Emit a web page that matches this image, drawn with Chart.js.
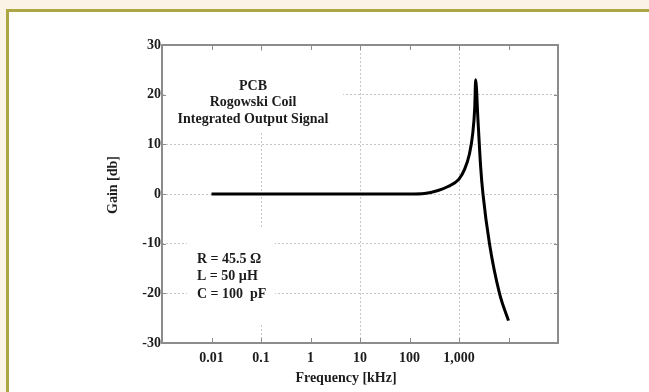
<!DOCTYPE html>
<html>
<head>
<meta charset="utf-8">
<script src="https://cdn.jsdelivr.net/npm/chart.js@4"></script>
<style>
  html, body { margin: 0; padding: 0; background: #fbf3e6; }
  #frame {
    position: absolute; left: 6px; top: 9px; width: 700px; height: 400px;
    background: #fff; border-top: 3px solid #ada645; border-left: 3px solid #ada645;
  }
  #wrap { position: absolute; left: 0; top: 0; width: 649px; height: 392px; }
</style>
</head>
<body>
<div id="frame"></div>
<div id="wrap"><canvas id="myChart" width="649" height="392"></canvas></div>
<script>
const ctx = document.getElementById("myChart");

// frequency response
let freqKHz = [0.01, 0.1, 1, 10, 100, 200, 377, 600, 1000, 1300, 1620, 1890, 2080, 2170, 2420, 2740, 3050, 4130, 6580, 10000]
let gainDb  = [0, 0, 0, 0, 0, 0.1, 0.7, 1.5, 3.0, 5.0, 8.0, 12.1, 17.4, 23, 14.8, 5.4, 0, -10, -20, -25.5]

let xDecades = [0.001, 0.01, 0.1, 1, 10, 100, 1000, 10000, 100000]
let xLabels = {0.01: '0.01', 0.1: '0.1', 1: '1', 10: '10', 100: '100', 1000: '1,000'}
let yTicks = [-30, -20, -10, 0, 10, 20, 30]

let titleLines = ['PCB', 'Rogowski Coil', 'Integrated Output Signal']
let paramLines = ['R = 45.5 \u03A9', 'L = 50 \u00B5H', 'C = 100  pF']

const FONT = 'bold 14px "Liberation Serif", serif'
const INK = '#1c1c1c'

const points = freqKHz.map((f, i) => ({x: f, y: gainDb[i]}))

function isGridDecade(v){
  return Math.abs(Math.round(Math.log10(v))) % 2 === 1
}

const decor = {
  id: 'decor',
  beforeDatasetsDraw(chart){
    const c = chart.ctx, a = chart.chartArea
    // white boxes behind the texts hide the grid there
    c.save()
    c.fillStyle = '#fff'
    c.fillRect(a.left + 3, a.top + 8, 178, 80)
    c.fillRect(a.left + 25, a.top + 182, 88, 96)
    c.restore()
  },
  afterDatasetsDraw(chart){
    const c = chart.ctx, a = chart.chartArea
    const xs = chart.scales.x, ys = chart.scales.y
    c.save()
    c.strokeStyle = '#8c8c8c'
    c.lineWidth = 2
    c.strokeRect(a.left, a.top, a.right - a.left, a.bottom - a.top)
    c.lineWidth = 1
    c.beginPath()
    xDecades.forEach(v => {
      const px = Math.round(xs.getPixelForValue(v)) + 0.5
      c.moveTo(px, a.top); c.lineTo(px, a.top + 5)
      c.moveTo(px, a.bottom); c.lineTo(px, a.bottom - 5)
    })
    yTicks.forEach(v => {
      const py = Math.round(ys.getPixelForValue(v)) + 0.5
      c.moveTo(a.left, py); c.lineTo(a.left + 4, py)
      c.moveTo(a.right, py); c.lineTo(a.right - 4, py)
    })
    c.stroke()

    c.fillStyle = INK
    c.font = FONT
    c.textBaseline = 'middle'
    c.textAlign = 'center'
    titleLines.forEach((t, i) => c.fillText(t, a.left + 91, a.top + 41 + i * 16.5))
    c.textAlign = 'left'
    paramLines.forEach((t, i) => c.fillText(t, a.left + 35, a.top + 214 + i * 17.5))

    // axis titles
    c.textAlign = 'center'
    c.fillText('Frequency [kHz]', a.left + 184, a.bottom + 35)
    c.translate(a.left - 49, a.top + 140)
    c.rotate(-Math.PI / 2)
    c.fillText('Gain [db]', 0, 0)
    c.restore()
  }
}

const myChart = new Chart(ctx, {
  type: 'line',
  data: {
    datasets: [{
      label: 'Gain',
      data: points,
      borderColor: '#000',
      borderWidth: 3,
      pointRadius: 0,
      cubicInterpolationMode: 'monotone',
      fill: false
    }]
  },
  options: {
    responsive: false,
    animation: false,
    layout: { padding: { top: 45, right: 91, left: 0, bottom: 0 } },
    plugins: { legend: { display: false }, tooltip: { enabled: false } },
    scales: {
      x: {
        type: 'logarithmic',
        min: 0.001,
        max: 100000,
        afterBuildTicks(scale){ scale.ticks = xDecades.map(v => ({value: v})) },
        afterFit(scale){ scale.height = 49 },
        grid: {
          drawTicks: false,
          color: c => (c.tick && isGridDecade(c.tick.value)) ? '#c6c6c6' : 'rgba(0,0,0,0)',
          lineWidth: 1
        },
        border: { display: false, dash: [2, 2] },
        ticks: {
          autoSkip: false,
          maxRotation: 0,
          padding: 7,
          color: INK,
          font: { family: '"Liberation Serif", serif', size: 14, weight: 'bold' },
          callback: v => xLabels[v] || ''
        }
      },
      y: {
        min: -30,
        max: 30,
        afterBuildTicks(scale){ scale.ticks = yTicks.map(v => ({value: v})) },
        afterFit(scale){ scale.width = 162 },
        grid: {
          drawTicks: false,
          color: c => (c.tick && c.tick.value > -30 && c.tick.value < 30) ? '#c6c6c6' : 'rgba(0,0,0,0)',
          lineWidth: 1
        },
        border: { display: false, dash: [2, 2] },
        ticks: {
          padding: 1,
          color: INK,
          font: { family: '"Liberation Serif", serif', size: 14, weight: 'bold' },
          callback: v => String(v)
        }
      }
    }
  },
  plugins: [decor]
});
</script>
</body>
</html>
